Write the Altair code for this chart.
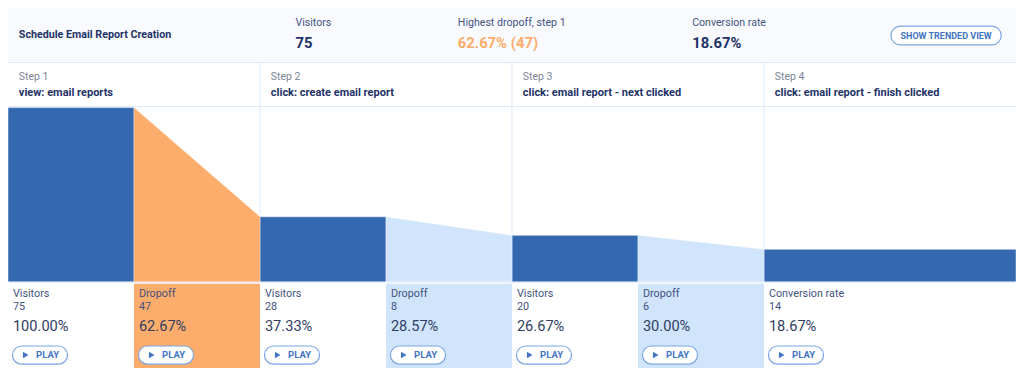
import altair as alt
import pandas as pd

# ---------------- data ----------------
title = "Schedule Email Report Creation"
kpi_labels = ["Visitors", "Highest dropoff, step 1", "Conversion rate"]
kpi_values = ["75", "62.67% (47)", "18.67%"]
button_label = "SHOW TRENDED VIEW"
step_labels = ["Step 1", "Step 2", "Step 3", "Step 4"]
step_names = [
    "view: email reports",
    "click: create email report",
    "click: email report - next clicked",
    "click: email report - finish clicked",
]
visitors = [75, 28, 20, 14]
visitor_pcts = ["100.00%", "37.33%", "26.67%", "18.67%"]
dropoffs = [47, 8, 6]
dropoff_pcts = ["62.67%", "28.57%", "30.00%"]
play_label = "PLAY"

# ---------------- styling / layout ----------------
W, H = 1008, 360
SY = H / 376.0
SLOT = 128.0  # reference pixels per half column


def py(v):
    return v * SY


def sx(ref):
    return ref / SLOT


FONT = "Roboto"
BLUE = "#3469b1"
ORANGE = "#fdad6b"
LIGHT = "#d0e5fc"
HEADER_BG = "#f8fafe"
GRID = "#dde9fa"
NAVY = "#1e3266"
LABEL = "#43527e"
GREY = "#7c8596"
PCT = "#2f3d63"
BTN = "#4374c4"
BTN_STROKE = "#7ba6e2"

xs = alt.Scale(domain=[0, 8], nice=False, zero=False)
ys = alt.Scale(domain=[0, 75], range=[py(286), py(104)], nice=False, zero=False)

rates = [dropoffs[i] / visitors[i] for i in range(len(dropoffs))]
hi = rates.index(max(rates))
drop_fill = [ORANGE if i == hi else LIGHT for i in range(len(dropoffs))]

layers = []

# header background
layers.append(
    alt.Chart(pd.DataFrame({"a": [0], "b": [8]}))
    .mark_rect(color=HEADER_BG)
    .encode(x=alt.X("a:Q", scale=xs, axis=None), x2="b:Q",
            y=alt.value(0), y2=alt.value(py(57)))
)

# dropoff boxes under the funnel
box_df = pd.DataFrame({
    "a": [2 * i + 1 for i in range(len(dropoffs))],
    "b": [2 * i + 2 for i in range(len(dropoffs))],
    "fill": drop_fill,
})
layers.append(
    alt.Chart(box_df).mark_rect()
    .encode(x=alt.X("a:Q", scale=xs, axis=None), x2="b:Q",
            y=alt.value(py(288)), y2=alt.value(H),
            color=alt.Color("fill:N", scale=None))
)

# horizontal grid lines
for yy in [57, 103, 286.5]:
    layers.append(
        alt.Chart(pd.DataFrame({"a": [0], "b": [8]}))
        .mark_rule(color=GRID, strokeWidth=1)
        .encode(x=alt.X("a:Q", scale=xs, axis=None), x2="b:Q", y=alt.value(py(yy)))
    )

# vertical separators between steps
layers.append(
    alt.Chart(pd.DataFrame({"a": [2, 4, 6]}))
    .mark_rule(color=GRID, strokeWidth=1)
    .encode(x=alt.X("a:Q", scale=xs, axis=None),
            y=alt.value(py(57)), y2=alt.value(py(286)))
)

# funnel bars
bar_df = pd.DataFrame({
    "a": [2 * i for i in range(len(visitors))],
    "b": [2 * i + 1 if i < len(visitors) - 1 else 8 for i in range(len(visitors))],
    "v": visitors,
})
layers.append(
    alt.Chart(bar_df).mark_rect(color=BLUE, stroke="#ffffff", strokeWidth=0.8, strokeOpacity=0.6)
    .encode(x=alt.X("a:Q", scale=xs, axis=None), x2="b:Q",
            y=alt.Y("v:Q", scale=ys, axis=None), y2=alt.datum(0))
)

# dropoff wedges
rows = []
for i in range(len(dropoffs)):
    rows.append({"seg": i, "x": 2 * i + 1, "v": visitors[i], "fill": drop_fill[i]})
    rows.append({"seg": i, "x": 2 * i + 2, "v": visitors[i + 1], "fill": drop_fill[i]})
area_df = pd.DataFrame(rows)
layers.append(
    alt.Chart(area_df).mark_area(stroke="#ffffff", strokeWidth=0.6, strokeOpacity=0.5)
    .encode(x=alt.X("x:Q", scale=xs, axis=None),
            y=alt.Y("v:Q", scale=ys, axis=None), y2=alt.datum(0),
            color=alt.Color("fill:N", scale=None), detail="seg:N")
)


def text_layer(df, yv, size, color, weight="normal", align="left", color_field=None):
    mk = alt.Chart(df).mark_text(align=align, baseline="middle", font=FONT,
                                 fontSize=size, fontWeight=weight, color=color)
    enc = dict(x=alt.X("x:Q", scale=xs, axis=None), y=alt.value(py(yv)), text="t:N")
    if color_field:
        enc["color"] = alt.Color(color_field + ":N", scale=None)
    return mk.encode(**enc)


# header texts
layers.append(text_layer(pd.DataFrame({"x": [sx(11)], "t": [title]}), 28, 10.7, NAVY, "bold"))
kx = [sx(292), sx(457), sx(695)]
layers.append(text_layer(pd.DataFrame({"x": kx, "t": kpi_labels}), 16, 10.6, LABEL))
layers.append(text_layer(pd.DataFrame({"x": kx, "t": kpi_values, "c": [NAVY, ORANGE, NAVY]}),
                         37.5, 14.8, NAVY, "bold", color_field="c"))

# show trended view button
layers.append(
    alt.Chart(pd.DataFrame({"a": [sx(897)], "b": [sx(1009)]}))
    .mark_rect(fill="#ffffff", stroke=BTN_STROKE, strokeWidth=1.2, cornerRadius=9.5)
    .encode(x=alt.X("a:Q", scale=xs, axis=None), x2="b:Q",
            y=alt.value(py(19)), y2=alt.value(py(38.5)))
)
layers.append(text_layer(pd.DataFrame({"x": [sx(953)], "t": [button_label]}), 29, 9, BTN,
                         "bold", align="center"))

# step header row
sxs = [2 * i + sx(11) for i in range(len(step_labels))]
layers.append(text_layer(pd.DataFrame({"x": sxs, "t": step_labels}), 72, 10.5, GREY))
layers.append(text_layer(pd.DataFrame({"x": sxs, "t": step_names}), 89, 11, NAVY, "bold"))

# stat cells
cell_slot, cell_lab, cell_cnt, cell_pct = [], [], [], []
for i in range(len(visitors)):
    cell_slot.append(2 * i)
    cell_lab.append("Visitors" if i < len(visitors) - 1 else "Conversion rate")
    cell_cnt.append(str(visitors[i]))
    cell_pct.append(visitor_pcts[i])
    if i < len(dropoffs):
        cell_slot.append(2 * i + 1)
        cell_lab.append("Dropoff")
        cell_cnt.append(str(dropoffs[i]))
        cell_pct.append(dropoff_pcts[i])

tx = [s + sx(5) for s in cell_slot]
layers.append(text_layer(pd.DataFrame({"x": tx, "t": cell_lab}), 299, 10.8, LABEL))
layers.append(text_layer(pd.DataFrame({"x": tx, "t": cell_cnt}), 312, 10.8, LABEL))
layers.append(text_layer(pd.DataFrame({"x": tx, "t": cell_pct}), 333, 14.6, PCT))

# play buttons
layers.append(
    alt.Chart(pd.DataFrame({"a": [s + sx(4.5) for s in cell_slot],
                            "b": [s + sx(60.5) for s in cell_slot]}))
    .mark_rect(fill="#ffffff", stroke=BTN_STROKE, strokeWidth=1.2, cornerRadius=9.5)
    .encode(x=alt.X("a:Q", scale=xs, axis=None), x2="b:Q",
            y=alt.value(py(353)), y2=alt.value(py(372)))
)
layers.append(
    alt.Chart(pd.DataFrame({"x": [s + sx(18) for s in cell_slot]}))
    .mark_point(shape="triangle-right", filled=True, size=42, color=BTN, opacity=1)
    .encode(x=alt.X("x:Q", scale=xs, axis=None), y=alt.value(py(362.5)))
)
layers.append(text_layer(pd.DataFrame({"x": [s + sx(28.5) for s in cell_slot],
                                       "t": [play_label] * len(cell_slot)}),
                         362.5, 9.5, BTN, "bold"))

chart = (
    alt.layer(*layers)
    .properties(width=W, height=H, padding=0, background="#ffffff",
                autosize=alt.AutoSizeParams(type="none"))
    .configure_view(strokeWidth=0)
)

chart.save("out.html", embed_options={"renderer": "svg", "actions": False})
